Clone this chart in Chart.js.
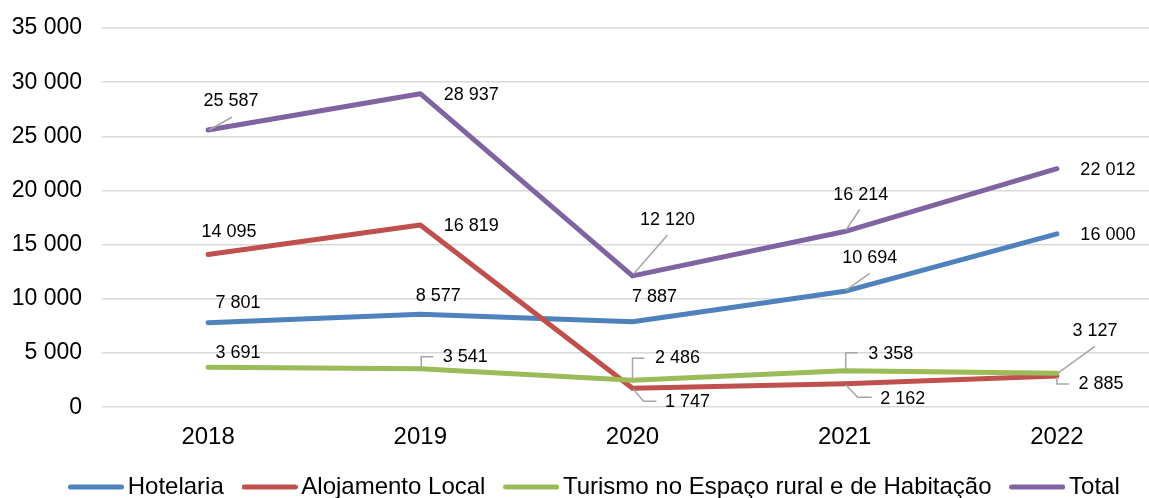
<!DOCTYPE html>
<html>
<head>
<meta charset="utf-8">
<script src="https://cdn.jsdelivr.net/npm/chart.js@4/dist/chart.umd.min.js"></script>
<style>
  html, body { margin: 0; padding: 0; background: #fff; overflow: hidden; }
  #wrap { position: relative; width: 1170px; height: 528px; }
</style>
</head>
<body>
<div id="wrap"><canvas id="c"></canvas></div>
<script>
const categories = ['2018', '2019', '2020', '2021', '2022'];
const hotelaria = [7801, 8577, 7887, 10694, 16000];
const alojamentoLocal = [14095, 16819, 1747, 2162, 2885];
const turismoRural = [3691, 3541, 2486, 3358, 3127];
const total = [25587, 28937, 12120, 16214, 22012];
const seriesNames = ['Hotelaria', 'Alojamento Local', 'Turismo no Espaço rural e de Habitação', 'Total'];
const yTicks = { min: 0, max: 35000, step: 5000 };

// label placement (style only): text offset from point and optional leader polyline
const labelLayout = [
  [ {dx:30,dy:-20}, {dx:18,dy:-18}, {dx:22,dy:-25}, {dx:25,dy:-33,l:[[1,-1],[25,-18]]}, {dx:51,dy:1} ],
  [ {dx:21,dy:-22}, {dx:51,dy:1}, {dx:55,dy:14,l:[[1,1],[11,13],[24,13]]}, {dx:58,dy:15,l:[[1,1],[13,13.5],[27,13.5]]}, {dx:44,dy:8,l:[[0,1],[0,8],[12,8]]} ],
  [ {dx:30,dy:-14}, {dx:45,dy:-12,l:[[1,0],[1,-12],[13,-12]]}, {dx:45,dy:-22,l:[[0,-1],[0,-22],[12,-22]]}, {dx:46,dy:-17,l:[[1,-1],[1,-18],[13,-18]]}, {dx:38,dy:-42,l:[[2,-1],[38,-27]]} ],
  [ {dx:23,dy:-29,l:[[1,0],[24,-13]]}, {dx:51,dy:1}, {dx:35,dy:-56,l:[[1,-2],[35,-41]]}, {dx:16,dy:-37,l:[[1,-1],[15,-22]]}, {dx:51,dy:1} ]
];

const fmt = v => String(v).replace(/\B(?=(\d{3})+(?!\d))/g, ' ');
const FONT = "'Liberation Sans', Arial, sans-serif";

// legend swatch: a short rounded line
function swatch(color) {
  const c = document.createElement('canvas');
  c.width = 56; c.height = 8;
  const x = c.getContext('2d');
  x.strokeStyle = color; x.lineWidth = 5; x.lineCap = 'round';
  x.beginPath(); x.moveTo(2.5, 4); x.lineTo(53.5, 4); x.stroke();
  return c;
}

const dataLabelPlugin = {
  id: 'dataLabels',
  afterLayout(chart) {
    // place the legend row like the original
    const lg = chart.legend;
    if (lg) { lg.left += 14; lg.right += 14; lg.top -= 19; lg.bottom -= 19; }
  },
  afterDatasetsDraw(chart) {
    const ctx = chart.ctx;
    ctx.save();
    chart.data.datasets.forEach((ds, i) => {
      const meta = chart.getDatasetMeta(i);
      meta.data.forEach((pt, j) => {
        const lay = labelLayout[i][j];
        if (lay.l) {
          ctx.beginPath();
          ctx.strokeStyle = '#A6A6A6';
          ctx.lineWidth = 1.5;
          lay.l.forEach((p, k) => {
            const x = pt.x + p[0], y = pt.y + p[1];
            if (k === 0) ctx.moveTo(x, y); else ctx.lineTo(x, y);
          });
          ctx.stroke();
        }
        ctx.fillStyle = '#000';
        ctx.font = '18px ' + FONT;
        ctx.textAlign = 'center';
        ctx.textBaseline = 'middle';
        ctx.fillText(fmt(ds.data[j]), pt.x + lay.dx, pt.y + lay.dy);
      });
    });
    ctx.restore();
  }
};

const colors = ['#4F81BD', '#C0504D', '#9BBB59', '#8064A2'];
const values = [hotelaria, alojamentoLocal, turismoRural, total];

new Chart(document.getElementById('c'), {
  type: 'line',
  data: {
    labels: categories,
    datasets: values.map((v, i) => ({
      label: seriesNames[i],
      data: v,
      borderColor: colors[i],
      backgroundColor: colors[i],
      borderWidth: 5,
      borderCapStyle: 'round',
      borderJoinStyle: 'round',
      pointStyle: swatch(colors[i]),
      pointRadius: 0,
      pointHoverRadius: 0,
      tension: 0,
      order: 3 - i
    }))
  },
  options: {
    responsive: true,
    maintainAspectRatio: false,
    animation: false,
    devicePixelRatio: 1,
    layout: { padding: { left: 5, right: 7, top: 28, bottom: 0 } },
    plugins: {
      tooltip: { enabled: false },
      legend: {
        position: 'bottom',
        labels: {
          sort: (a, b) => a.datasetIndex - b.datasetIndex,
          usePointStyle: true,
          pointStyleWidth: 39.5,
          boxHeight: 5,
          padding: 26,
          color: '#000',
          font: { family: FONT, size: 24 }
        }
      }
    },
    scales: {
      x: {
        offset: true,
        grid: { display: false, drawTicks: false },
        border: { display: false },
        ticks: { color: '#000', font: { family: FONT, size: 24 }, padding: 16, maxRotation: 0 }
      },
      y: {
        min: yTicks.min,
        max: yTicks.max,
        afterFit(scale) { scale.width = 97; scale.paddingTop = 0; scale.paddingBottom = 0; },
        grid: { color: '#D9D9D9', lineWidth: 1.5, drawTicks: false },
        border: { display: false },
        ticks: { stepSize: yTicks.step, color: '#000', font: { family: FONT, size: 23 }, padding: 20, callback: v => fmt(v) }
      }
    }
  },
  plugins: [dataLabelPlugin]
});
</script>
</body>
</html>
